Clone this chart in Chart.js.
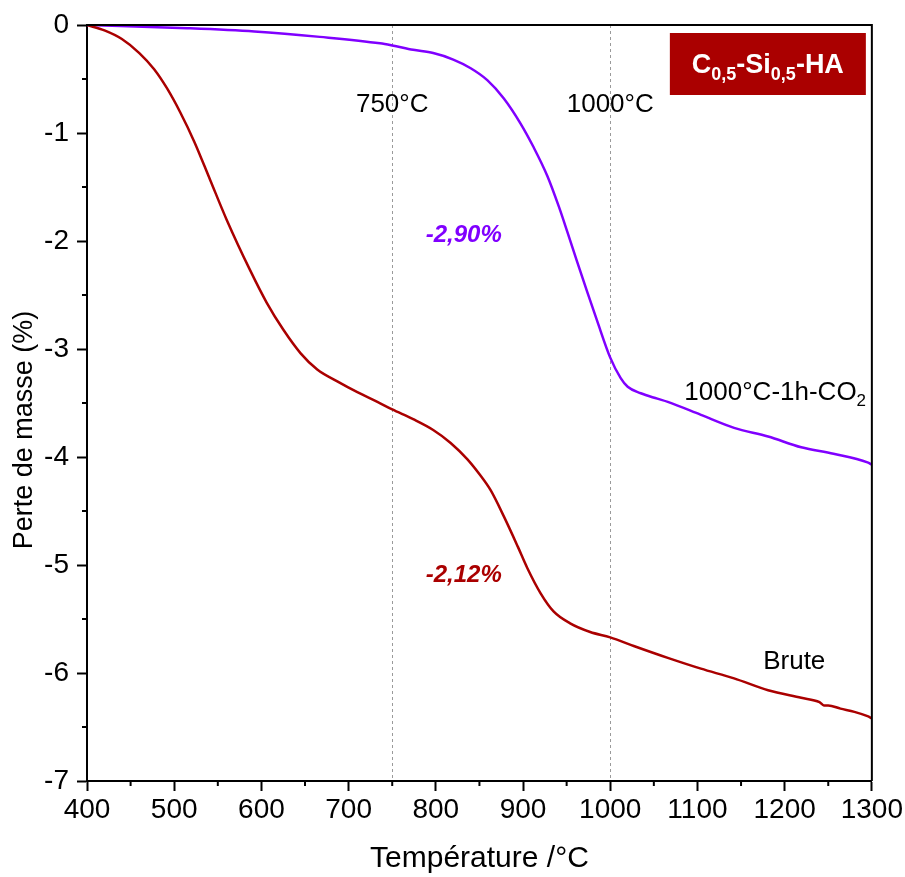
<!DOCTYPE html>
<html>
<head>
<meta charset="utf-8">
<script src="https://cdn.jsdelivr.net/npm/chart.js@4.4.1/dist/chart.umd.min.js"></script>
<style>
  html, body { margin: 0; padding: 0; background: #fff; }
  #wrap { width: 905px; height: 877px; }
</style>
</head>
<body>
<div id="wrap"><canvas id="tga" width="905" height="877"></canvas></div>
<script>
// readings taken off the reference curves
const bruteTemp = [400, 420, 440, 460, 477, 492, 507, 523, 541, 560, 587, 606, 625, 645, 664, 687, 710, 733, 750, 774, 797, 817, 836, 851, 863, 878, 894, 905, 920, 935, 954, 977, 1000, 1027, 1066, 1104, 1142, 1181, 1219, 1240, 1245, 1250, 1264, 1280, 1295, 1300];
const bruteMass = [0, -0.05, -0.13, -0.26, -0.41, -0.59, -0.81, -1.08, -1.43, -1.80, -2.27, -2.57, -2.82, -3.04, -3.19, -3.30, -3.40, -3.49, -3.56, -3.65, -3.75, -3.87, -4.02, -4.17, -4.31, -4.55, -4.83, -5.03, -5.26, -5.43, -5.54, -5.62, -5.67, -5.75, -5.86, -5.96, -6.05, -6.16, -6.23, -6.27, -6.30, -6.30, -6.33, -6.36, -6.40, -6.42];

const co2Temp = [400, 515, 592, 667, 736, 750, 774, 797, 820, 840, 859, 878, 897, 912, 928, 941, 951, 962, 974, 985, 1000, 1012, 1020, 1035, 1054, 1066, 1104, 1142, 1181, 1219, 1256, 1295, 1300];
const co2Mass = [0, -0.03, -0.06, -0.11, -0.17, -0.19, -0.23, -0.26, -0.32, -0.40, -0.51, -0.68, -0.91, -1.13, -1.40, -1.68, -1.92, -2.19, -2.48, -2.74, -3.08, -3.27, -3.35, -3.41, -3.46, -3.49, -3.61, -3.73, -3.81, -3.91, -3.97, -4.05, -4.07];

const refTemps = [750, 1000];
const refLabels = ["750°C", "1000°C"];
const xTicks = [400, 500, 600, 700, 800, 900, 1000, 1100, 1200, 1300];
const yTicks = [0, -1, -2, -3, -4, -5, -6, -7];

const RED = "#aa0000";
const PURPLE = "#8000ff";
const FONT = "'Liberation Sans', Arial, sans-serif";

const toPts = (xs, ys) => xs.map((x, i) => ({ x: x, y: ys[i] }));

const decor = {
  id: "decor",
  beforeDatasetsDraw(chart) {
    const { ctx, chartArea: a, scales: { x } } = chart;
    ctx.save();
    ctx.strokeStyle = "#9a9a9a";
    ctx.lineWidth = 1;
    ctx.setLineDash([3, 3]);
    refTemps.forEach(t => {
      const px = Math.round(x.getPixelForValue(t)) + 0.5;
      ctx.beginPath();
      ctx.moveTo(px, a.top);
      ctx.lineTo(px, a.bottom);
      ctx.stroke();
    });
    ctx.restore();
  },
  afterDraw(chart) {
    const { ctx, chartArea: a, scales: { x, y } } = chart;
    ctx.save();
    // frame top / right
    ctx.strokeStyle = "#000";
    ctx.lineWidth = 2;
    ctx.beginPath();
    ctx.moveTo(a.left, a.top);
    ctx.lineTo(a.right, a.top);
    ctx.lineTo(a.right, a.bottom);
    ctx.stroke();

    // minor ticks
    for (let t = 450; t < 1300; t += 100) {
      const px = x.getPixelForValue(t);
      ctx.beginPath();
      ctx.moveTo(px, a.bottom);
      ctx.lineTo(px, a.bottom + 5);
      ctx.stroke();
    }
    for (let v = -0.5; v > -7; v -= 1) {
      const py = y.getPixelForValue(v);
      ctx.beginPath();
      ctx.moveTo(a.left, py);
      ctx.lineTo(a.left - 5, py);
      ctx.stroke();
    }

    // y axis title
    ctx.fillStyle = "#000";
    ctx.font = "27px " + FONT;
    ctx.textAlign = "center";
    ctx.textBaseline = "middle";
    ctx.save();
    ctx.translate(25, 430);
    ctx.rotate(-Math.PI / 2);
    ctx.fillText("Perte de masse (%)", 0, 0);
    ctx.restore();

    // labels
    ctx.font = "26px " + FONT;
    refLabels.forEach((s, i) => {
      ctx.fillText(s, x.getPixelForValue(refTemps[i]), y.getPixelForValue(-0.74));
    });

    ctx.font = "italic bold 24px " + FONT;
    ctx.fillStyle = PURPLE;
    ctx.fillText("-2,90%", x.getPixelForValue(832), y.getPixelForValue(-1.95));
    ctx.fillStyle = RED;
    ctx.fillText("-2,12%", x.getPixelForValue(832), y.getPixelForValue(-5.10));

    ctx.fillStyle = "#000";
    ctx.font = "26px " + FONT;
    ctx.textAlign = "left";
    ctx.textBaseline = "alphabetic";
    const co2x = x.getPixelForValue(1085);
    const co2y = y.getPixelForValue(-3.39) + 9;
    ctx.fillText("1000°C-1h-CO", co2x, co2y);
    const w = ctx.measureText("1000°C-1h-CO").width;
    ctx.font = "17px " + FONT;
    ctx.fillText("2", co2x + w, co2y + 6);

    ctx.font = "26px " + FONT;
    ctx.textAlign = "center";
    ctx.textBaseline = "middle";
    ctx.fillText("Brute", x.getPixelForValue(1211), y.getPixelForValue(-5.90));

    // sample box
    const bx = a.right - 202, by = a.top + 8, bw = 196, bh = 62;
    ctx.fillStyle = RED;
    ctx.fillRect(bx, by, bw, bh);
    const parts = [["C", 0], ["0,5", 1], ["-Si", 0], ["0,5", 1], ["-HA", 0]];
    const big = "bold 27px " + FONT, small = "bold 18px " + FONT;
    let total = 0;
    parts.forEach(p => { ctx.font = p[1] ? small : big; total += ctx.measureText(p[0]).width; });
    let cx = bx + (bw - total) / 2;
    const base = by + 40;
    ctx.fillStyle = "#fff";
    ctx.textAlign = "left";
    ctx.textBaseline = "alphabetic";
    parts.forEach(p => {
      ctx.font = p[1] ? small : big;
      ctx.fillText(p[0], cx, p[1] ? base + 7 : base);
      cx += ctx.measureText(p[0]).width;
    });
    ctx.restore();
  }
};

new Chart(document.getElementById("tga"), {
  type: "line",
  data: {
    datasets: [
      {
        label: "Brute",
        data: toPts(bruteTemp, bruteMass),
        borderColor: RED,
        borderWidth: 2.5,
        pointRadius: 0,
        cubicInterpolationMode: "monotone",
        fill: false
      },
      {
        label: "1000°C-1h-CO2",
        data: toPts(co2Temp, co2Mass),
        borderColor: PURPLE,
        borderWidth: 2.5,
        pointRadius: 0,
        cubicInterpolationMode: "monotone",
        fill: false
      }
    ]
  },
  options: {
    responsive: false,
    animation: false,
    devicePixelRatio: 1,
    layout: { padding: { left: 0, top: 25, right: 33, bottom: 0 } },
    plugins: { legend: { display: false }, tooltip: { enabled: false } },
    scales: {
      x: {
        type: "linear",
        min: 400,
        max: 1300,
        afterFit: s => { s.height = 96; },
        afterBuildTicks: s => { s.ticks = xTicks.map(v => ({ value: v })); },
        ticks: { color: "#000", font: { family: FONT, size: 28 }, padding: 2, maxRotation: 0, callback: v => String(v) },
        grid: { drawOnChartArea: false, drawTicks: true, tickLength: 10, tickWidth: 2, tickColor: "#000" },
        border: { color: "#000", width: 2 },
        title: { display: true, text: "Température /°C", color: "#000", font: { family: FONT, size: 30 }, padding: { top: 0, bottom: 0 } }
      },
      y: {
        type: "linear",
        min: -7,
        max: 0,
        afterFit: s => { s.width = 87; },
        afterBuildTicks: s => { s.ticks = yTicks.map(v => ({ value: v })); },
        ticks: { color: "#000", font: { family: FONT, size: 28 }, padding: 8, callback: v => String(v) },
        grid: { drawOnChartArea: false, drawTicks: true, tickLength: 10, tickWidth: 2, tickColor: "#000" },
        border: { color: "#000", width: 2 },
        title: { display: false }
      }
    }
  },
  plugins: [decor]
});
</script>
</body>
</html>
